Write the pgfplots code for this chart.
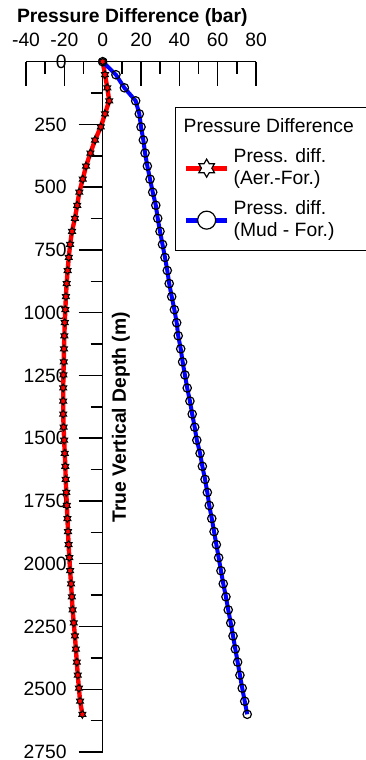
\documentclass[border=0pt]{standalone}
\usepackage{pgfplots}
\pgfplotsset{compat=1.18}
\usepackage{fontspec}
\setmainfont{Liberation Sans}
\pgfdeclareplotmark{hexstar}{%
  \pgfpathmoveto{\pgfpointpolar{90}{\pgfplotmarksize}}%
  \pgfpathlineto{\pgfpointpolar{120}{0.57735\pgfplotmarksize}}%
  \pgfpathlineto{\pgfpointpolar{150}{\pgfplotmarksize}}%
  \pgfpathlineto{\pgfpointpolar{180}{0.57735\pgfplotmarksize}}%
  \pgfpathlineto{\pgfpointpolar{210}{\pgfplotmarksize}}%
  \pgfpathlineto{\pgfpointpolar{240}{0.57735\pgfplotmarksize}}%
  \pgfpathlineto{\pgfpointpolar{270}{\pgfplotmarksize}}%
  \pgfpathlineto{\pgfpointpolar{300}{0.57735\pgfplotmarksize}}%
  \pgfpathlineto{\pgfpointpolar{330}{\pgfplotmarksize}}%
  \pgfpathlineto{\pgfpointpolar{0}{0.57735\pgfplotmarksize}}%
  \pgfpathlineto{\pgfpointpolar{30}{\pgfplotmarksize}}%
  \pgfpathlineto{\pgfpointpolar{60}{0.57735\pgfplotmarksize}}%
  \pgfpathclose
  \pgfusepathqfillstroke
}
\newcommand{\fs}{\fontsize{9.65}{11}\selectfont}
\begin{document}
\begin{tikzpicture}
\begin{axis}[
  scale only axis,
  width=115pt, height=345.15pt,
  xmin=-40, xmax=80, ymin=0, ymax=2750,
  y dir=reverse,
  enlargelimits=false,
  clip=false,
  axis x line*=top,
  axis y line*=middle,
  hide obscured x ticks=false,
  hide obscured y ticks=false,
  axis line style={black, line width=0.7pt},
  xtick={-40,-20,...,80}, minor x tick num=1,
  ytick={0,250,...,2750}, minor y tick num=1,
  tick align=inside,
  major tick length=12pt, minor tick length=6pt,
  tick style={black, line width=0.7pt},
  major y tick style={xshift=-12pt},
  minor y tick style={xshift=-6pt},
  /pgf/number format/assume math mode=true,
  /pgf/number format/1000 sep={},
  tick label style={font=\fs},
  xticklabel style={yshift=4pt},
  yticklabel style={xshift=-14.5pt},
  legend style={at={(axis cs:37.7,180.5)}, anchor=north west, draw=black, line width=0.7pt,
    font=\fs, nodes={align=left}, inner xsep=4pt, inner ysep=3.5pt, row sep=2.5pt},
  legend cell align=left,
]
\addlegendimage{empty legend}
\addlegendentry{\hspace*{-25pt}Pressure Difference\hspace*{6pt}}
\addplot[red, line width=2.2pt, mark=hexstar, mark size=2pt,
  mark options={fill=red, draw=black, line width=0.5pt, solid},
  legend image code/.code={
    \draw[red, line width=2.5pt] (0pt,0pt) -- (20.5pt,0pt);
    \draw[black, line width=0.6pt, mark size=4.5pt, mark options={fill=white, draw=black, line width=0.6pt, solid}] plot[mark=hexstar] coordinates {(10.25pt,0pt)};
  }] table[x=p, y=d] {
d p
0 0
52 1.2
104 2.4
156 3.4
208 1.2
260 -1.0
312 -4.0
364 -6.4
416 -8.7
468 -10.4
520 -12.2
572 -13.3
624 -14.5
676 -16.0
728 -17.0
780 -17.7
832 -18.3
884 -18.8
936 -19.2
988 -19.5
1040 -19.8
1092 -20.0
1144 -20.2
1196 -20.3
1248 -20.5
1300 -20.6
1352 -20.6
1404 -20.6
1456 -20.4
1508 -20.1
1560 -19.8
1612 -19.5
1664 -19.3
1716 -19.0
1768 -18.7
1820 -18.4
1872 -18.1
1924 -17.8
1976 -17.4
2028 -17.0
2080 -16.5
2132 -16.1
2184 -15.7
2236 -15.1
2288 -14.5
2340 -14.0
2392 -13.5
2444 -13.0
2496 -12.4
2548 -11.8
2600 -10.6
};
\addlegendentry{Press. diff.\\(Aer.-For.)}
\addplot[blue, line width=2pt, mark=o, mark size=2.1pt,
  mark options={draw=black, line width=0.6pt, solid},
  legend image code/.code={
    \draw[blue, line width=2.5pt] (0pt,0pt) -- (20.5pt,0pt);
    \draw[black, fill=white, line width=0.6pt] (10.25pt,0pt) circle (4.5pt);
  }] table[x=p, y=d] {
d p
0 0
52 6.9
104 11.3
156 17.2
208 19.1
260 20.0
312 21.2
364 22.1
416 23.3
468 24.7
520 26.1
572 27.7
624 28.7
676 29.9
728 31.2
780 32.5
832 33.7
884 34.7
936 36.0
988 37.4
1040 38.6
1092 39.4
1144 40.7
1196 41.7
1248 42.9
1300 44.1
1352 45.5
1404 46.7
1456 48.0
1508 49.1
1560 50.8
1612 52.0
1664 53.4
1716 54.6
1768 55.6
1820 56.9
1872 58.1
1924 59.3
1976 60.5
2028 61.7
2080 62.9
2132 64.3
2184 65.5
2236 66.8
2288 68.0
2340 69.2
2392 70.4
2444 71.6
2496 72.8
2548 74.1
2600 75.4
};
\addlegendentry{Press. diff.\\(Mud - For.)}
\node[font=\fs\bfseries, anchor=base] at (axis cs:15.5,-154.2) {Pressure Difference (bar)};
\node[font=\fs\bfseries, rotate=90, anchor=center] at (axis cs:9.5,1417) {True Vertical Depth (m)};
\coordinate (bbA) at (axis cs:-53.58,-245.8);
\coordinate (bbB) at (axis cs:137.37,2782.1);
\end{axis}
\pgfresetboundingbox
\path[use as bounding box] (bbA) rectangle (bbB);
\end{tikzpicture}
\end{document}
